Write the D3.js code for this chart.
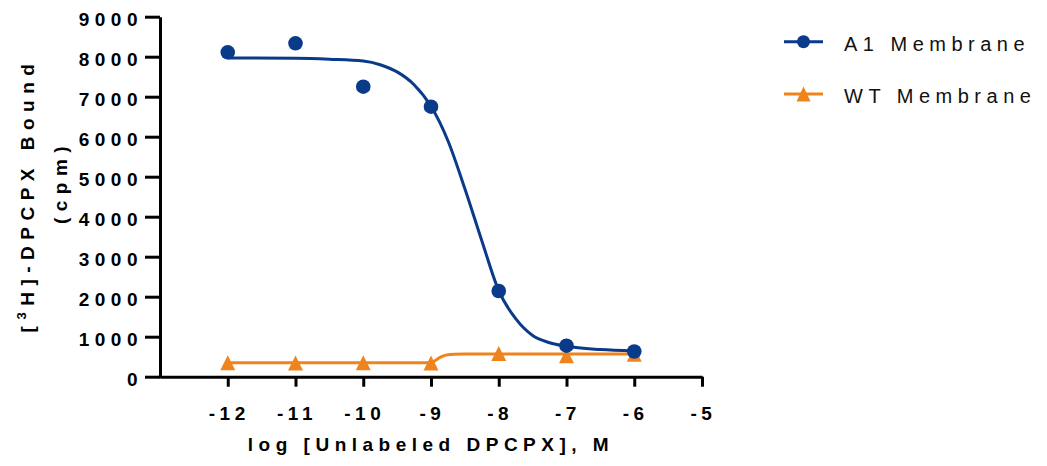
<!DOCTYPE html>
<html>
<head>
<meta charset="utf-8">
<script src="https://cdn.jsdelivr.net/npm/d3@7"></script>
<style>
  body { margin: 0; background: #fff; }
  svg { display: block; }
</style>
</head>
<body>
<div id="chart"></div>
<script>
// measured points, log molar concentration of unlabeled DPCPX
var logConc = [-12, -11, -10, -9, -8, -7, -6];
var a1Bound = [8110, 8335, 7250, 6750, 2143, 775, 630];
var wtBound = [350, 345, 350, 345, 580, 525, 560];

// fitted curves
var a1FitX = [-12, -11, -10.5, -10, -9.75, -9.5, -9.25, -9.0, -8.75, -8.5, -8.25, -8.0, -7.75, -7.5, -7.25, -7.0, -6.5, -6];
var a1FitY = [7970, 7960, 7935, 7890, 7800, 7620, 7300, 6760, 5900, 4700, 3400, 2150, 1450, 1030, 850, 760, 680, 645];
var wtFitX = [-12, -9.0, -8.95, -8.88, -8.78, -8.65, -8.5, -6];
var wtFitY = [350, 350, 390, 470, 540, 563, 567, 567];

var xTicks = [-12, -11, -10, -9, -8, -7, -6, -5];
var yTicks = [0, 1000, 2000, 3000, 4000, 5000, 6000, 7000, 8000, 9000];
var seriesNames = ['A1 Membrane', 'WT Membrane'];
var seriesColors = ['#0a3a8a', '#f0841c'];

var width = 1047, height = 466;
var font = "'Liberation Sans', Arial, sans-serif";

var svg = d3.select('#chart')
    .append('svg')
    .attr('width', width)
    .attr('height', height)
    .attr('viewBox', `0 0 ${width} ${height}`);

var x = d3.scaleLinear().domain([-13, -5]).range([160, 702]);
var y = d3.scaleLinear().domain([0, 9000]).range([376.7, 16.7]);

var plain = function(d) { return String(d); };

// y axis
var yAxis = svg.append('g')
    .attr('transform', `translate(${x(-13)}, 0)`)
    .call(d3.axisLeft(y).tickValues(yTicks).tickFormat(plain)
        .tickSize(15).tickSizeOuter(0).tickPadding(2));

// x axis
var xAxis = svg.append('g')
    .attr('transform', `translate(0, ${y(0)})`)
    .call(d3.axisBottom(x).tickValues(xTicks).tickFormat(plain)
        .tickSize(10).tickSizeOuter(0).tickPadding(20));

[yAxis, xAxis].forEach(function(ax) {
    ax.select('.domain').attr('stroke', '#000').attr('stroke-width', 3);
    ax.selectAll('.tick line').attr('stroke', '#000').attr('stroke-width', 3);
    ax.selectAll('.tick text')
        .attr('fill', '#000')
        .style('font-family', font)
        .style('font-size', '19px')
        .style('font-weight', 'bold');
});
yAxis.selectAll('.tick text').attr('dy', '0.45em').style('letter-spacing', '5.5px');
xAxis.selectAll('.tick text').style('letter-spacing', '4.5px').attr('dx', '1px');

// join the corner
svg.append('line')
    .attr('x1', x(-13)).attr('x2', x(-13))
    .attr('y1', y(0) - 1).attr('y2', y(0) + 1.5)
    .attr('stroke', '#000').attr('stroke-width', 3);

// axis titles
svg.append('text')
    .attr('x', 431)
    .attr('y', 451)
    .attr('text-anchor', 'middle')
    .style('font-family', font)
    .style('font-size', '19px')
    .style('font-weight', 'bold')
    .style('letter-spacing', '5.5px')
    .text('log [Unlabeled DPCPX], M');

var ytitle1 = svg.append('text')
    .attr('transform', 'translate(34, 195) rotate(-90)')
    .attr('text-anchor', 'middle')
    .style('font-family', font)
    .style('font-size', '19px')
    .style('font-weight', 'bold')
    .style('letter-spacing', '6.5px');
ytitle1.append('tspan').text('[');
ytitle1.append('tspan').attr('dy', -8).style('font-size', '13px').text('3');
ytitle1.append('tspan').attr('dy', 8).text('H]-DPCPX Bound');

svg.append('text')
    .attr('transform', 'translate(67, 182) rotate(-90)')
    .attr('text-anchor', 'middle')
    .style('font-family', font)
    .style('font-size', '19px')
    .style('font-weight', 'bold')
    .style('letter-spacing', '6.5px')
    .text('(cpm)');

// curves
var line = d3.line()
    .x(function(d) { return x(d[0]); })
    .y(function(d) { return y(d[1]); })
    .curve(d3.curveMonotoneX);

var wtFit = wtFitX.map(function(v, i) { return [v, wtFitY[i]]; });
var a1Fit = a1FitX.map(function(v, i) { return [v, a1FitY[i]]; });

svg.append('path')
    .attr('d', line(wtFit))
    .attr('fill', 'none')
    .attr('stroke', seriesColors[1])
    .attr('stroke-width', 3);

var triangle = 'M0,-7.5L7.5,7.5L-7.5,7.5Z';

svg.append('g').selectAll('path')
    .data(logConc.map(function(v, i) { return [v, wtBound[i]]; }))
    .enter()
    .append('path')
    .attr('d', triangle)
    .attr('fill', seriesColors[1])
    .attr('transform', function(d) { return `translate(${x(d[0])}, ${y(d[1])})`; });

svg.append('path')
    .attr('d', line(a1Fit))
    .attr('fill', 'none')
    .attr('stroke', seriesColors[0])
    .attr('stroke-width', 3);

svg.append('g').selectAll('circle')
    .data(logConc.map(function(v, i) { return [v, a1Bound[i]]; }))
    .enter()
    .append('circle')
    .attr('cx', function(d) { return x(d[0]); })
    .attr('cy', function(d) { return y(d[1]); })
    .attr('r', 7.3)
    .attr('fill', seriesColors[0]);

// legend
var legend = svg.append('g');
var legendRows = [41.7, 94];
seriesNames.forEach(function(name, i) {
    var row = legend.append('g').attr('transform', `translate(0, ${legendRows[i]})`);
    row.append('line')
        .attr('x1', 784).attr('x2', 823)
        .attr('stroke', seriesColors[i])
        .attr('stroke-width', 3);
    if (i === 0) {
        row.append('circle').attr('cx', 803.5).attr('cy', 0).attr('r', 6.5).attr('fill', seriesColors[i]);
    } else {
        row.append('path').attr('d', 'M0,-7.5L7,7.5L-7,7.5Z')
            .attr('transform', 'translate(803.5, 0)')
            .attr('fill', seriesColors[i]);
    }
    row.append('text')
        .attr('x', 844)
        .attr('y', 9)
        .style('font-family', font)
        .style('font-size', '20px')
        .style('letter-spacing', '5.5px')
        .attr('fill', '#111')
        .text(name);
});
</script>
</body>
</html>
